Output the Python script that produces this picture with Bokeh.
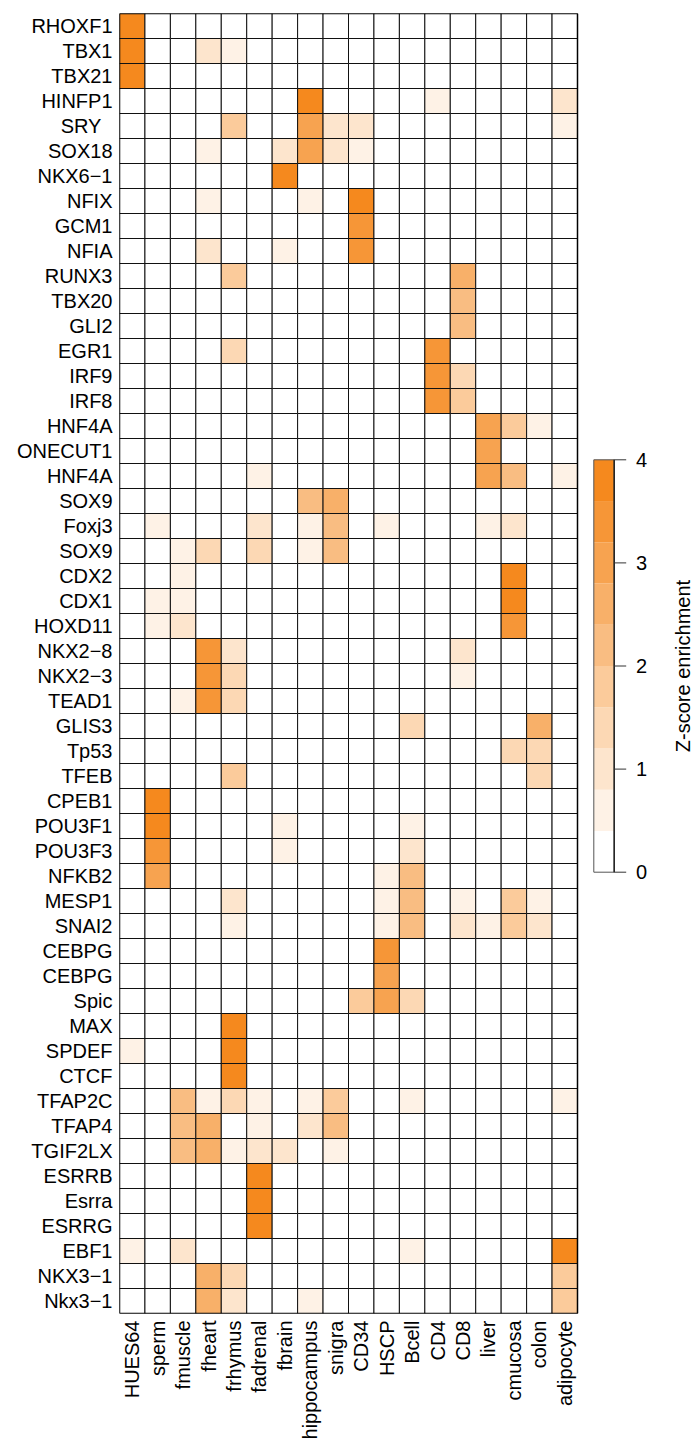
import numpy as np
from bokeh.plotting import figure
from bokeh.core.properties import value
from bokeh.models import ColumnDataSource, LinearColorMapper, FixedTicker, Range1d
from bokeh.transform import transform
from bokeh.embed import file_html
from bokeh.resources import INLINE

# Tissues / cell types (columns) and motifs (rows, top to bottom)
tissues = ["HUES64", "sperm", "fmuscle", "fheart", "frhymus", "fadrenal", "fbrain",
           "hippocampus", "snigra", "CD34", "HSCP", "Bcell", "CD4", "CD8", "liver",
           "cmucosa", "colon", "adipocyte"]

motifs = ["RHOXF1", "TBX1", "TBX21", "HINFP1", "SRY\u00a0\u00a0", "SOX18", "NKX6\u22121", "NFIX",
          "GCM1", "NFIA", "RUNX3", "TBX20", "GLI2",
          "EGR1", "IRF9", "IRF8", "HNF4A", "ONECUT1", "HNF4A", "SOX9", "Foxj3", "SOX9",
          "CDX2", "CDX1", "HOXD11", "NKX2\u22128",
          "NKX2\u22123", "TEAD1", "GLIS3", "Tp53", "TFEB", "CPEB1", "POU3F1", "POU3F3",
          "NFKB2", "MESP1", "SNAI2", "CEBPG", "CEBPG",
          "Spic", "MAX", "SPDEF", "CTCF", "TFAP2C", "TFAP4", "TGIF2LX", "ESRRB", "Esrra",
          "ESRRG", "EBF1", "NKX3\u22121", "Nkx3\u22121"]

# Z-score enrichment per tissue, one value per motif (same order as motifs)
hues64 = [3.8, 3.8, 3.8, 0, 0, 0, 0, 0, 0, 0, 0, 0, 0,
          0, 0, 0, 0, 0, 0, 0, 0, 0, 0, 0, 0, 0,
          0, 0, 0, 0, 0, 0, 0, 0, 0, 0, 0, 0, 0,
          0, 0, 0.6, 0, 0, 0, 0, 0, 0, 0, 0.6, 0, 0]
sperm = [0, 0, 0, 0, 0, 0, 0, 0, 0, 0, 0, 0, 0,
         0, 0, 0, 0, 0, 0, 0, 0.6, 0, 0, 0.6, 0.6, 0,
         0, 0, 0, 0, 0, 3.8, 3.8, 3.4, 3.0, 0, 0, 0, 0,
         0, 0, 0, 0, 0, 0, 0, 0, 0, 0, 0, 0, 0]
fmuscle = [0, 0, 0, 0, 0, 0, 0, 0, 0, 0, 0, 0, 0,
           0, 0, 0, 0, 0, 0, 0, 0, 0.6, 0.6, 0.6, 1.0, 0,
           0, 0.6, 0, 0, 0, 0, 0, 0, 0, 0, 0, 0, 0,
           0, 0, 0, 0, 2.2, 2.2, 2.2, 0, 0, 0, 1.0, 0, 0]
fheart = [0, 1.0, 0, 0, 0, 0.6, 0, 0.6, 0, 1.0, 0, 0, 0,
          0, 0, 0, 0, 0, 0, 0, 0, 1.4, 0, 0, 0, 3.4,
          3.4, 3.4, 0, 0, 0, 0, 0, 0, 0, 0, 0, 0, 0,
          0, 0, 0, 0, 0.6, 2.6, 2.6, 0, 0, 0, 0, 2.6, 2.6]
frhymus = [0, 0.6, 0, 0, 1.8, 0, 0, 0, 0, 0, 1.8, 0, 0,
           1.4, 0, 0, 0, 0, 0, 0, 0, 0, 0, 0, 0, 1.0,
           1.4, 1.4, 0, 0, 1.8, 0, 0, 0, 0, 1.0, 0.6, 0, 0,
           0, 3.8, 3.8, 3.8, 1.4, 0, 0.6, 0, 0, 0, 0, 1.4, 1.0]
fadrenal = [0, 0, 0, 0, 0, 0, 0, 0, 0, 0, 0, 0, 0,
            0, 0, 0, 0, 0, 0.6, 0, 1.0, 1.4, 0, 0, 0, 0,
            0, 0, 0, 0, 0, 0, 0, 0, 0, 0, 0, 0, 0,
            0, 0, 0, 0, 0.6, 0.6, 1.0, 3.8, 3.8, 3.8, 0, 0, 0]
fbrain = [0, 0, 0, 0, 0, 1.0, 3.8, 0, 0, 0.6, 0, 0, 0,
          0, 0, 0, 0, 0, 0, 0, 0, 0, 0, 0, 0, 0,
          0, 0, 0, 0, 0, 0, 0.6, 0.6, 0, 0, 0, 0, 0,
          0, 0, 0, 0, 0, 0, 1.0, 0, 0, 0, 0, 0, 0]
hippocampus = [0, 0, 0, 3.8, 3.0, 3.0, 0, 0.6, 0, 0, 0, 0, 0,
               0, 0, 0, 0, 0, 0, 2.2, 0.6, 0.6, 0, 0, 0, 0,
               0, 0, 0, 0, 0, 0, 0, 0, 0, 0, 0, 0, 0,
               0, 0, 0, 0, 0.6, 1.0, 0, 0, 0, 0, 0, 0, 0.6]
snigra = [0, 0, 0, 0, 1.0, 1.0, 0, 0, 0, 0, 0, 0, 0,
          0, 0, 0, 0, 0, 0, 2.6, 2.2, 2.2, 0, 0, 0, 0,
          0, 0, 0, 0, 0, 0, 0, 0, 0, 0, 0, 0, 0,
          0, 0, 0, 0, 1.8, 2.2, 0.6, 0, 0, 0, 0, 0, 0]
cd34 = [0, 0, 0, 0, 1.0, 0.6, 0, 3.8, 3.4, 3.4, 0, 0, 0,
        0, 0, 0, 0, 0, 0, 0, 0, 0, 0, 0, 0, 0,
        0, 0, 0, 0, 0, 0, 0, 0, 0, 0, 0, 0, 0,
        1.8, 0, 0, 0, 0, 0, 0, 0, 0, 0, 0, 0, 0]
hscp = [0, 0, 0, 0, 0, 0, 0, 0, 0, 0, 0, 0, 0,
        0, 0, 0, 0, 0, 0, 0, 0.6, 0, 0, 0, 0, 0,
        0, 0, 0, 0, 0, 0, 0, 0, 0.6, 0.6, 0.6, 3.4, 3.0,
        3.0, 0, 0, 0, 0, 0, 0, 0, 0, 0, 0, 0, 0]
bcell = [0, 0, 0, 0, 0, 0, 0, 0, 0, 0, 0, 0, 0,
         0, 0, 0, 0, 0, 0, 0, 0, 0, 0, 0, 0, 0,
         0, 0, 1.4, 0, 0, 0, 0.6, 1.0, 2.2, 2.2, 2.2, 0, 0,
         1.4, 0, 0, 0, 0.6, 0, 0, 0, 0, 0, 0.6, 0, 0]
cd4 = [0, 0, 0, 0.6, 0, 0, 0, 0, 0, 0, 0, 0, 0,
       3.4, 3.4, 3.4, 0, 0, 0, 0, 0, 0, 0, 0, 0, 0,
       0, 0, 0, 0, 0, 0, 0, 0, 0, 0, 0, 0, 0,
       0, 0, 0, 0, 0, 0, 0, 0, 0, 0, 0, 0, 0]
cd8 = [0, 0, 0, 0, 0, 0, 0, 0, 0, 0, 2.6, 2.2, 2.2,
       0, 1.4, 1.8, 0, 0, 0, 0, 0, 0, 0, 0, 0, 1.0,
       0.6, 0, 0, 0, 0, 0, 0, 0, 0, 0.6, 1.0, 0, 0,
       0, 0, 0, 0, 0, 0, 0, 0, 0, 0, 0, 0, 0]
liver = [0, 0, 0, 0, 0, 0, 0, 0, 0, 0, 0, 0, 0,
         0, 0, 0, 3.0, 3.0, 3.0, 0, 0.6, 0, 0, 0, 0, 0,
         0, 0, 0, 0, 0, 0, 0, 0, 0, 0, 0.6, 0, 0,
         0, 0, 0, 0, 0, 0, 0, 0, 0, 0, 0, 0, 0]
cmucosa = [0, 0, 0, 0, 0, 0, 0, 0, 0, 0, 0, 0, 0,
           0, 0, 0, 1.8, 0, 2.2, 0, 1.0, 0, 3.8, 3.8, 3.4, 0,
           0, 0, 0, 1.4, 0, 0, 0, 0, 0, 1.8, 1.8, 0, 0,
           0, 0, 0, 0, 0, 0, 0, 0, 0, 0, 0, 0, 0]
colon = [0, 0, 0, 0, 0, 0, 0, 0, 0, 0, 0, 0, 0,
         0, 0, 0, 0.6, 0, 0, 0, 0, 0, 0, 0, 0, 0,
         0, 0, 2.6, 1.4, 1.4, 0, 0, 0, 0, 0.6, 1.0, 0, 0,
         0, 0, 0, 0, 0, 0, 0, 0, 0, 0, 0, 0, 0]
adipocyte = [0, 0, 0, 1.0, 0.6, 0, 0, 0, 0, 0, 0, 0, 0,
             0, 0, 0, 0, 0, 0.6, 0, 0, 0, 0, 0, 0, 0,
             0, 0, 0, 0, 0, 0, 0, 0, 0, 0, 0, 0, 0,
             0, 0, 0, 0, 0.6, 0, 0, 0, 0, 0, 3.8, 1.8, 1.8]

# Colour key range, number of steps and tick values
z_low, z_high, n_steps = 0, 4, 10
key_ticks = [0, 1, 2, 3, 4]
key_title = "Z-score enrichment"

columns = [hues64, sperm, fmuscle, fheart, frhymus, fadrenal, fbrain, hippocampus,
           snigra, cd34, hscp, bcell, cd4, cd8, liver, cmucosa, colon, adipocyte]
for col in columns:
    assert len(col) == len(motifs)

n_cols, n_rows = len(tissues), len(motifs)

# white -> orange ramp
lo_rgb = np.array([255, 255, 255])
hi_rgb = np.array([245, 137, 30])
palette = []
for i in range(n_steps):
    t = i / (n_steps - 1)
    r, g, b = np.round(lo_rgb + (hi_rgb - lo_rgb) * t).astype(int)
    palette.append("#%02x%02x%02x" % (r, g, b))

xs, ys, zs = [], [], []
for ci, col in enumerate(columns):
    for ri, z in enumerate(col):
        xs.append(ci)
        ys.append(ri)
        zs.append(z)
src = ColumnDataSource(dict(x=xs, y=ys, z=zs))
mapper = LinearColorMapper(palette=palette, low=z_low, high=z_high)

FONT = "Liberation Sans"

# page geometry (pixels)
W, H = 693, 1444
left, top = 119, 13
heat_w, heat_h = 458, 1300           # heatmap area
key_y_top, key_y_bot = 459.3, 871.7  # colour key vertical extent (z_high, z_low)

px_col = heat_w / n_cols


def col_units(px):
    """Horizontal page pixel -> heatmap column units."""
    return -0.5 + (px - left) / px_col


key_l, key_r = col_units(593.3), col_units(613.7)
tick_end = col_units(625.7)
tick_label_x = col_units(635.5)
title_x = col_units(682.5)

px_unit = (key_y_bot - key_y_top) / (z_high - z_low)
key_start = z_low - (top + heat_h - key_y_bot) / px_unit
key_end = z_high + (key_y_top - top) / px_unit

p = figure(width=W, height=H,
           x_range=Range1d(-0.5, col_units(W)),
           y_range=Range1d(n_rows - 0.5, -0.5),
           toolbar_location=None, output_backend="svg",
           min_border_left=left, min_border_right=0,
           min_border_top=top, min_border_bottom=H - top - heat_h)
p.extra_y_ranges = {"key": Range1d(key_start, key_end)}

# heatmap cells
p.rect(x="x", y="y", width=1, height=1, source=src,
       fill_color=transform("z", mapper), line_color="#111111", line_width=1)
# heatmap border
p.rect(x=(n_cols - 1) / 2, y=(n_rows - 1) / 2, width=n_cols, height=n_rows,
       fill_color=None, line_color="black", line_width=1.5)

# colour key: bands, frame, ticks, tick labels and title
edges = np.linspace(z_low, z_high, n_steps + 1)
p.quad(left=key_l, right=key_r, bottom=edges[:-1], top=edges[1:],
       fill_color=palette, line_color=None, y_range_name="key")
p.quad(left=key_l, right=key_r, bottom=z_low, top=z_high,
       fill_color=None, line_color="#555555", line_width=1, y_range_name="key")
p.segment(x0=key_r, x1=key_r, y0=z_low, y1=z_high, line_color="#222222",
          line_width=1.5, y_range_name="key")
p.segment(x0=key_r, x1=tick_end, y0=key_ticks, y1=key_ticks, line_color="#333333",
          line_width=1, y_range_name="key")
p.text(x=tick_label_x, y=key_ticks, text=[str(t) for t in key_ticks],
       text_align="left", text_baseline="middle", text_font=value(FONT),
       text_font_size="20px", text_color="black", y_range_name="key")
p.text(x=[title_x], y=[(z_low + z_high) / 2], text=[key_title], angle=np.pi / 2,
       text_align="center", text_baseline="middle", text_font=value(FONT),
       text_font_size="20px", text_color="black", y_range_name="key")

p.grid.visible = False
p.outline_line_color = None
p.background_fill_color = "white"
p.border_fill_color = "white"

p.xaxis.ticker = FixedTicker(ticks=list(range(n_cols)))
p.xaxis.major_label_overrides = {i: t for i, t in enumerate(tissues)}
p.xaxis.major_label_orientation = np.pi / 2
p.yaxis.ticker = FixedTicker(ticks=list(range(n_rows)))
p.yaxis.major_label_overrides = {i: m for i, m in enumerate(motifs)}
for ax in (p.xaxis, p.yaxis):
    ax.major_tick_out = 0
    ax.major_tick_in = 0
    ax.minor_tick_out = 0
    ax.minor_tick_in = 0
    ax.axis_line_color = None
    ax.major_label_standoff = 7
    ax.major_label_text_font = FONT
    ax.major_label_text_font_size = "20px"
    ax.major_label_text_color = "black"

open("out.html", "w").write(file_html(p, INLINE))
